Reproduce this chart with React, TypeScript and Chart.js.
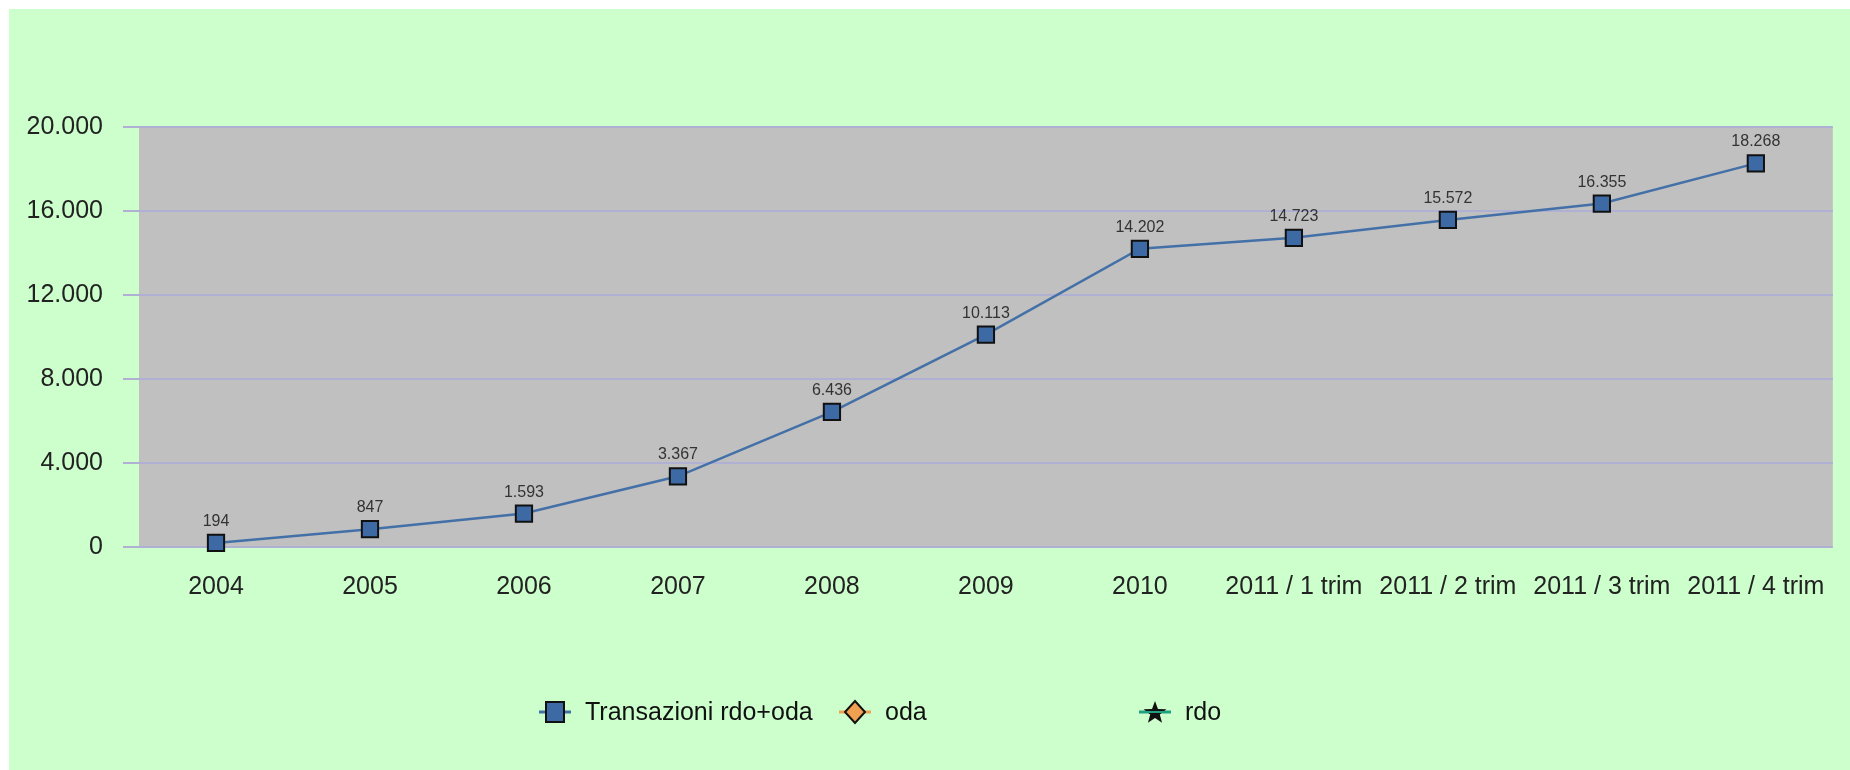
import React, { useEffect, useRef } from 'react';
import { Chart, registerables } from 'chart.js';

Chart.register(...registerables);

const categories = ['2004', '2005', '2006', '2007', '2008', '2009', '2010', '2011 / 1 trim', '2011 / 2 trim', '2011 / 3 trim', '2011 / 4 trim'];
const transazioniValues = [194, 847, 1593, 3367, 6436, 10113, 14202, 14723, 15572, 16355, 18268];
const odaValues: (number | null)[] = [];
const rdoValues: (number | null)[] = [];
const yTicks = [0, 4000, 8000, 12000, 16000, 20000];
const seriesNames = ['Transazioni rdo+oda', 'oda', 'rdo'];
const seriesLine = ['#4470a8', '#f0a050', '#20a080'];
const seriesFill = ['#3d6aa5', '#f0a050', '#111111'];
const legendX = [546, 846, 1146];

const FONT = '"Liberation Sans", Arial, sans-serif';
const fmt = (v: number) => String(Math.round(v)).replace(/\B(?=(\d{3})+(?!\d))/g, '.');

const bgPlugin = {
  id: 'bgPlugin',
  beforeDraw(chart: any) {
    const { ctx, chartArea } = chart;
    ctx.save();
    ctx.fillStyle = '#ccffcc';
    ctx.fillRect(0, 0, chart.width, chart.height);
    ctx.fillStyle = '#c0c0c0';
    ctx.fillRect(chartArea.left, chartArea.top, chartArea.right - chartArea.left, chartArea.bottom - chartArea.top);
    ctx.restore();
  },
};

const labelPlugin = {
  id: 'labelPlugin',
  afterDatasetsDraw(chart: any) {
    const { ctx } = chart;
    const meta = chart.getDatasetMeta(0);
    const data = chart.data.datasets[0].data as number[];
    ctx.save();
    ctx.font = `16px ${FONT}`;
    ctx.fillStyle = '#333333';
    ctx.textAlign = 'center';
    ctx.textBaseline = 'alphabetic';
    meta.data.forEach((pt: any, i: number) => {
      ctx.fillText(fmt(data[i]), pt.x, pt.y - 17);
    });
    ctx.restore();
  },
};

function drawStar(ctx: CanvasRenderingContext2D, cx: number, cy: number, r: number) {
  ctx.beginPath();
  for (let i = 0; i < 10; i++) {
    const rad = i % 2 === 0 ? r : r * 0.42;
    const a = -Math.PI / 2 + (i * Math.PI) / 5;
    const x = cx + rad * Math.cos(a);
    const y = cy + rad * Math.sin(a);
    if (i === 0) ctx.moveTo(x, y);
    else ctx.lineTo(x, y);
  }
  ctx.closePath();
  ctx.fill();
}

const legendPlugin = {
  id: 'legendPlugin',
  afterDraw(chart: any) {
    const { ctx } = chart;
    const cy = 703;
    ctx.save();
    chart.data.datasets.forEach((ds: any, i: number) => {
      const cx = legendX[i];
      ctx.strokeStyle = seriesLine[i];
      ctx.lineWidth = 3;
      ctx.beginPath();
      ctx.moveTo(cx - 16, cy);
      ctx.lineTo(cx + 16, cy);
      ctx.stroke();
      ctx.fillStyle = seriesFill[i];
      ctx.strokeStyle = '#111111';
      ctx.lineWidth = 2;
      if (i === 0) {
        ctx.fillRect(cx - 9, cy - 10, 18, 20);
        ctx.strokeRect(cx - 9, cy - 10, 18, 20);
      } else if (i === 1) {
        ctx.beginPath();
        ctx.moveTo(cx, cy - 11);
        ctx.lineTo(cx + 10, cy);
        ctx.lineTo(cx, cy + 11);
        ctx.lineTo(cx - 10, cy);
        ctx.closePath();
        ctx.fill();
        ctx.stroke();
      } else {
        drawStar(ctx, cx, cy + 1, 12);
        ctx.strokeStyle = seriesLine[i];
        ctx.lineWidth = 2;
        ctx.beginPath();
        ctx.moveTo(cx - 16, cy);
        ctx.lineTo(cx + 16, cy);
        ctx.stroke();
      }
      ctx.fillStyle = '#111111';
      ctx.font = `25px ${FONT}`;
      ctx.textAlign = 'left';
      ctx.textBaseline = 'middle';
      ctx.fillText(ds.label, cx + 30, cy + 1);
    });
    ctx.restore();
  },
};

export default function App() {
  const ref = useRef<HTMLCanvasElement>(null);
  useEffect(() => {
    const chart = new Chart(ref.current as HTMLCanvasElement, {
      type: 'line',
      data: {
        labels: categories,
        datasets: [
          {
            label: seriesNames[0],
            data: transazioniValues,
            borderColor: seriesLine[0],
            borderWidth: 2.5,
            backgroundColor: seriesFill[0],
            pointStyle: 'rect',
            pointRadius: 11.5,
            pointBorderColor: '#111111',
            pointBorderWidth: 2,
            pointBackgroundColor: seriesFill[0],
            tension: 0,
            clip: false as any,
          },
          {
            label: seriesNames[1],
            data: odaValues,
            borderColor: seriesLine[1],
            backgroundColor: seriesFill[1],
            pointStyle: 'rectRot',
          },
          {
            label: seriesNames[2],
            data: rdoValues,
            borderColor: seriesLine[2],
            backgroundColor: seriesFill[2],
            pointStyle: 'star',
          },
        ],
      },
      options: {
        animation: false,
        responsive: false,
        maintainAspectRatio: false,
        layout: { padding: { top: 118, right: 13, left: 0, bottom: 0 } },
        plugins: {
          legend: { display: false },
          tooltip: { enabled: false },
          title: { display: false },
        },
        scales: {
          x: {
            type: 'category',
            offset: true,
            grid: { display: false, drawTicks: false },
            border: { display: false },
            ticks: {
              color: '#222222',
              font: { family: FONT, size: 25 },
              padding: 25,
              maxRotation: 0,
              autoSkip: false,
            },
            afterFit(scale: any) {
              scale.height = 223;
            },
          },
          y: {
            min: 0,
            max: 20000,
            grid: { color: '#b0b0d4', lineWidth: 2, tickLength: 16, drawTicks: true },
            border: { display: false },
            ticks: {
              color: '#222222',
              font: { family: FONT, size: 25 },
              padding: 20,
              callback: (v: any) => fmt(Number(v)),
            },
            afterBuildTicks(scale: any) {
              scale.ticks = yTicks.map((v) => ({ value: v }));
            },
            afterFit(scale: any) {
              scale.width = 130;
            },
          },
        },
      },
      plugins: [bgPlugin, labelPlugin, legendPlugin],
    });
    return () => chart.destroy();
  }, []);
  return (
    <div style={{ position: 'fixed', left: 9, top: 9, width: 1841, height: 761 }}>
      <canvas ref={ref} width={1841} height={761} style={{ display: 'block' }} />
    </div>
  );
}
